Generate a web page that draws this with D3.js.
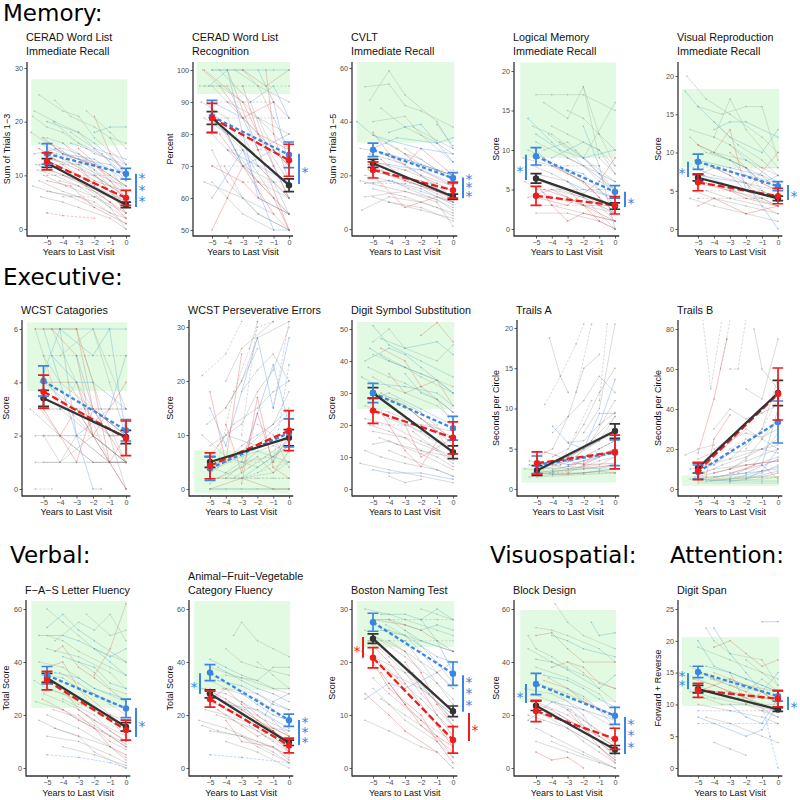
<!DOCTYPE html>
<html><head><meta charset="utf-8">
<script src="https://cdn.jsdelivr.net/npm/d3@7"></script>
<style>body{margin:0;background:#fff}svg{display:block}</style>
</head><body>
<svg id="c" width="800" height="800"></svg>
<script>
// ---------------- DATA ----------------
const sectionNames = ["Memory:", "Executive:", "Verbal:", "Visuospatial:", "Attention:"];
const titles = [
  ["CERAD Word List","Immediate Recall"],["CERAD Word List","Recognition"],["CVLT","Immediate Recall"],
  ["Logical Memory","Immediate Recall"],["Visual Reproduction","Immediate Recall"],
  ["WCST Catagories"],["WCST Perseverative Errors"],["Digit Symbol Substitution"],["Trails A"],["Trails B"],
  ["F\u2212A\u2212S Letter Fluency"],["Animal\u2212Fruit\u2212Vegetable","Category Fluency"],["Boston Naming Test"],["Block Design"],["Digit Span"]
];
const yTitles = ["Sum of Trials 1\u22123","Percent","Sum of Trials 1\u22125","Score","Score",
  "Score","Score","Score","Seconds per Circle","Seconds per Circle",
  "Total Score","Total Score","Score","Score","Forward + Reverse"];
const xTitle = "Years to Last Visit";
const xTicks = [-5,-4,-3,-2,-1,0];
const yTicks = [[0,10,20,30],[50,60,70,80,90,100],[0,20,40,60],[0,5,10,15,20],[0,5,10,15,20],
  [0,2,4,6],[0,10,20,30],[0,10,20,30,40,50],[0,5,10,15,20],[0,20,40,60,80],
  [0,20,40,60],[0,20,40,60],[0,10,20,30],[0,20,40,60],[0,5,10,15,20,25]];
const greenBands = [[15.6,27.9],[92.5,102.5],[32.2,62.6],[9,21.1],[8.1,18.3],
  [3.67,6.25],[-0.8,7.2],[25,52.2],[0.8,2.7],[1.5,6.8],
  [22.7,63],[29.4,63],[22.8,31.5],[25,59.6],[9.75,20.6]];
const blackMean = [[12.3,4.5],[85,64],[24.5,12],[6.4,2.9],[6.7,4.0],[3.4,1.95],[5,9.5],[30,11.5],[2.3,7.2],[10.5,48],[34,15.5],[28,9.5],[24.4,10.7],[23.5,7],[12.4,9.2]];
const blackErr  = [[0.8,0.5],[2,2],[1.5,1],[0.6,0.4],[0.4,0.3],[0.3,0.25],[1,1.5],[1.7,2],[0.6,0.9],[2.5,6.3],[1.7,1.6],[1.5,1],[0.9,1],[1.8,1.5],[0.6,0.3]];
const redMean   = [[12.6,5.8],[85,71.8],[22,14.5],[4.2,3.0],[6.1,4.3],[3.65,1.9],[4.3,10.8],[24.5,16],[3.2,4.6],[9,47.5],[33,14.3],[26,8.5],[20.8,5.3],[21.5,11],[12.2,10.9]];
const redErr    = [[1.6,1.4],[4.6,5],[3,3],[1.2,1.1],[1.1,1.0],[0.62,0.65],[2.4,3.7],[4,5],[1.4,2.1],[4.3,13],[3.5,3.8],[3,2.8],[1.9,2.5],[4,4],[1.1,1.3]];
const blueMean  = [[14,10.3],[85.5,73.5],[29.5,19],[9.2,4.7],[8.8,5.6],[4.05,2.2],[3.8,10.4],[30,19],[3.0,4.5],[8.5,33.5],[35,22.5],[36,18],[27.5,17.8],[31.7,19.7],[15.1,11.3]];
const blueErr   = [[1.9,1.0],[5,4],[2.5,2],[1.1,0.8],[1.0,0.6],[0.57,0.4],[2.2,2.6],[3,3.7],[1.1,1.6],[3.5,10.5],[3.3,3.5],[3,2.3],[1.7,2.2],[4,3.2],[0.9,0.8]];
const sigMarks = [
  [0,"R","b",10.3,4.1,3,0],[1,"R","b",73.8,64.4,1,0],[2,"R","b",19.2,11.5,3,0],
  [3,"L","b",9.4,6.2,1,0],[3,"R","b",4.7,2.8,1,0],[4,"L","b",8.8,6.8,1,0],[4,"R","b",5.75,3.8,1,0],
  [10,"R","b",22.6,11.7,1,0],[11,"L","b",35.8,27.9,1,0],[11,"R","b",18.1,8.7,3,0],
  [12,"L","r",24.7,20.8,1,0],[12,"R","b",17.5,10.6,3,0],[12,"R","r",10.4,5.1,1,1],
  [13,"L","b",31.7,24.5,1,0],[13,"R","b",19.2,5.3,3,0],
  [14,"L","b",14.9,12.4,2,0],[14,"R","b",11.2,9.1,1,0]
];
const spagCeradIR = ["g -5.8 22 -4.5 20 -3 18 -2 15 0 10","g -5.5 25 -4 22 -3 21 -2 17 0 12","g -6 18 -5 16 -3 14 -1 10 0 8","g -5 15 -4 13 -2 10 0 6","g -5.7 12 -4 10 -3 9 -1 5 0 3","g -4.6 20 -3 16 -1.5 14 0 9","g -5.2 10 -3.8 8 -2 6 0 2","g -5 13 -3 12 -2 8 0 4","g -4 16 -2.5 12 -1 7 0 5","g -5.9 21 -5 19 -4 18 -2 14 0 12","g -3 14 -2 11 -1 8 0 4","g -5.5 9 -4 7 -2 5 0 1","g -2.5 22 -1 18 0 15","g -4.8 11 -3 9 -1 4 0 0","g -5.3 17 -4 14 -2 12 0 7","g -3.5 18 -2 15 0 13","g -5 7 -3 6 -1 3 0 2","g -5.8 14 -4.2 15 -3 12 -1 9 0 5","G -5.5 12 -4 12 -3 12 -2 12","G -4 6 -2 6 -1 6 0 6","r -5.2 17 -4 14 -2 12 0 6","r -4.5 12 -3 10 -1 7 0 3","r -5 9 -3.5 8 -2 4 0 1","r -2 21 -1 14 0 10","r -3 15 -1.5 11 0 8","R -5 3 -4 2.5 -2 2","b -5 20 -3 18 -2 16 0 11","b -4.5 15 -3 13 -1 12 0 10","b -2 18 -1 19 0 19","b -5.5 16 -4 14 -2 13 0 9","b -1 17 0 12","g -4.5 24 -3.5 21 -2 19 -1 17 0 16",
  "g -5.2 14 -4 12 -3 10 -2 8 0 5","g -5.6 11 -4.5 10 -3 8 -1 6 0 4","g -4.2 9 -3 8 -2 6 0 3","g -5 17 -4 16 -2.5 13 -1 11 0 7","g -3.8 13 -2.8 11 -1.5 9 0 6","g -5.4 6 -4 5 -3 4 -1 2 0 0","g -2 10 -1 7 0 4","g -5.9 8 -4.8 7 -3.5 6 -2 4","g -4.4 14 -3 13 -2 11 -1 9 0 8","r -5.5 15 -4.5 13 -3 11 -2 9 0 7","r -4 10 -2.5 8 -1 5 0 2","b -3.5 16 -2.5 15 -1 13 0 11","G -5 10 -3 10 -2 10 -1 10"];
const spagCeradRec = ["b -5 100 -4 100 -3 100 -1 100 0 100","r -5.5 100 -3 90 -1 70 0 60","g -5 95 -4 90 -2 80 0 65","g -5.7 90 -4 85 -3 75 -1 60 0 55","b -5 90 -3 85 -2 75 0 80","r -4 100 -2 75 0 50","g -5 80 -3 70 -1 65 0 55","g -5.2 85 -4 80 -2 70 0 60","b -4.5 100 -2.5 90 -1 95 0 85","r -5 70 -3 65 -2 60 0 55","g -5.8 95 -4 95 -3 85 -1 75 0 70","b -5 60 -3 75 -1 50 0 50","r -3 95 -2 80 0 75","g -5 75 -4 65 -2 55 0 50","G -5 85 -3 85 -1 85 0 85","G -5.5 95 -3 95 0 95","G -5 90 -3 90 -1 90","g -4 90 -2 85 0 80","r -5 50 -4 60 -3 70 -1 55","b -2 100 -1 90 0 70","g -5.5 65 -3 60 -1 55 0 50","r -4.5 95 -3 85 -1 90 0 85","b -5.2 95 -4 100 -2 60 0 55","g -3.5 100 -2 95 0 90","g -5 100 -3 100 -2 95 0 75","r -1.5 100 -1 80 0 65","b -4 75 -2 70 0 65","G -4 75 -2 75 -1 75","G -3 65 -1 65 0 65","r -3 100 -1.5 95 0 100","g -2.5 90 -1 70 0 60",
  "g -5.3 90 -4 80 -3 70 -2 65 0 60","g -4.8 85 -3.5 75 -2 65 -1 60 0 55","g -5.6 100 -4.5 95 -3 90 -1 80 0 75","g -3 80 -2 70 -1 65 0 60","g -5 65 -4 60 -3 55 -1 50","r -4.5 80 -3 70 -2 65 -1 60 0 50","b -5.5 85 -4 80 -3 70 -1 75 0 70","g -2 85 -1 75 0 70","G -5 70 -3 70 -1 70","g -4.2 70 -3 60 -2 55 0 50"];
const spagCVLT = ["g -5.5 53 -4 54 -3 46 -2 44 0 38","g -5.2 48 -4 59 -3 50 -1 40 0 30","g -5 40 -3 42 -2 35 0 25","g -4.5 45 -3 38 -1 32 0 28","g -5.8 30 -4 28 -2 24 0 20","g -5 25 -3 22 -1 17 0 14","g -5.5 20 -4 18 -2 14 0 10","g -5 15 -3 12 -1 8 0 5","g -4 10 -2 8 0 3","g -5.7 7 -4 12 -2 10 0 6","g -3 30 -1 22 0 18","g -5 35 -3.5 30 -2 24 0 20","g -5.3 22 -4 20 -2 18 0 12","g -2.5 38 -1 33 0 30","r -5 36 -4 28 -3 24 -2 30 0 20","r -4.5 26 -3 18 -2 16 0 12","r -5 20 -3 8 -1 12 0 10","r -3 28 -2 22 0 16","b -6 40 -5 35 -4 33 -2 30 0 28","b -5 30 -3.5 34 -1 32 0 34","b -4 36 -3 38 -2 39 0 25","b -5.2 25 -4 24 -2 22 0 17","b -1 39 0 31","b -5.5 17 -4 18 -2 15 0 9","g -5.5 12 -3 14 -1 10 0 1","G -5 17 -3 17 -1 17","g -4 27 -2 20 -1 15 0 12",
  "g -5.2 28 -4 26 -3 24 -2 20 0 16","g -4.6 22 -3.5 20 -2 16 -1 13 0 10","g -5.8 18 -4.5 16 -3 14 -1 11 0 7","g -3.8 18 -2.8 15 -1.5 12 0 8","g -5 12 -4 10 -2 7 0 4","g -4.2 32 -3 28 -2 26 -1 22 0 18","g -2 20 -1 16 0 12","r -5.3 24 -4 20 -3 18 -1 14 0 11","b -4.5 28 -3 26 -2 24 -1 22 0 20","G -5 22 -3 22 -1 22 0 22"];
const spagLM = ["g -5 17 -4 17 -3 17 -2 17 0 15","g -4.5 16 -3 14 -2 18 -1 12 0 8","g -5.2 13 -4 12 -2 9 0 16","g -5 11 -3 9 -1 7 0 4","g -5.8 9 -4 8 -2 6 0 2","g -5 7 -3 6 -1 3 0 1","g -4 5 -2 4 0 0","g -5.5 4 -4 5 -2 3 0 2","g -3 15 -2 14 -1 12 0 10","g -5 2 -3 2 -1 1 0 0","g -4.5 10 -3 11 -2 9 0 6","g -2 18 -1 9 0 7","g -5.7 6 -4 4 -2 3 0 3","G -5 5 -3 5 -1 5 0 5","G -4 3 -2 3 0 3","r -5 6 -4 3 -3 1 -2 2 0 1","r -4 8 -2 6 -1 4 0 2","r -3 5 -2 3 -1 1 0 0","r -5 4 -3 3 -1 6 0 9","b -5.5 14 -4 11 -3 9 -2 8 0 5","b -5 12 -3.5 10 -2 9 0 10","b -4 9 -2 11 -1 10 0 7","b -3 6 -2 5 0 4","b -5 10 -4 8 -2 7 0 3","b -2 13 -1 8 0 0","g -4 13 -3 12 -1 10 0 8",
  "g -5.2 8 -4 7 -3 6 -2 4 0 2","g -4.6 6 -3.5 5 -2 4 -1 3 0 2","g -5.5 10 -4.5 9 -3 7 -1 5 0 3","g -3.8 8 -2.8 7 -1.5 5 0 4","g -5 3 -4 3 -2 2 0 1","g -2.5 10 -1.5 8 0 5","g -4.2 12 -3 10 -2 8 -1 6 0 5","r -4.5 5 -3 4 -2 3 0 1","b -3.5 11 -2 9 -1 7 0 6","G -5 8 -3 8 -1 8"];
const spagVR = ["b -5.8 18 -5 16 -3 12 -1 10 0 13","b -4 13 -3 14 -2 14 0 12","g -5.7 20 -4.5 17 -3 15 -1 12 0 10","g -5 16 -3.5 15 -2 16 -1 16 0 9","g -4 12 -3 17 -2 13 0 8","g -5 11 -4 10 -2 9 0 7","g -5.3 8 -4 7 -2 6 0 5","g -5 6 -3 5 -1 4 0 3","g -4.5 5 -3 4 -1 3 0 2","g -5.5 4 -4 3 -2 2 0 1","g -3 9 -2 8 -1 5 0 4","g -5 7 -4 8 -2 7 0 6","G -5 4 -3 4 -1 4 0 4","G -5 5 -3 5 -1 5","r -5 11 -4 10 -3 13 -2 5 0 10","r -4 8 -3 7 -2 5 0 4","r -3 10 -2 8 -1 6 0 5","r -5 3 -4 4 -2 2 0 3","b -5 9 -3 8 -1 7 0 5","b -3 11 -2 9 0 6","b -5 7 -2 6 0 0","g -4 14 -2.5 11 -1 9 0 7","g -5.5 13 -4 12 -3 11 -1 8 0 8",
  "g -5.2 9 -4 8 -3 7 -2 6 0 4","g -4.6 7 -3.5 6 -2 5 -1 4 0 3","g -5.5 12 -4.5 10 -3 9 -1 7 0 6","g -3.8 6 -2.8 5 -1.5 4 0 3","g -2.5 7 -1.5 5 0 4","g -4.2 10 -3 9 -2 7 -1 6 0 5","r -4.5 6 -3 5 -2 4 0 3","G -5 8 -3 8 -1 8","b -4 10 -3 9 -2 8 -1 6 0 7","g -5.3 5 -4 4 -2 3 0 2"];
const spagWCSTc = ["b -5 6 -4 6 -3 6 -1 6 0 6","r -4.5 6 -3 5 -2 2 0 1","g -5 5 -4 4 -2 3 0 2","g -5.5 6 -4 3 -2 2 0 1","b -4 6 -3 2 -1 3 0 5","g -5 4 -3 3 -1 2 0 0","r -3 6 -2 4 -1 1 0 2","g -5.8 3 -4 2 -2 1 0 1","g -5 2 -4 1 -2 2 0 0","b -5 6 -2 0 -1.5 0","g -4 5 -2 6 0 3","r -5 4 -3 4 -2 2 0 4","g -5.5 1 -4 1 -3 2 -1 1","G -5 5 -3 5 -1 5 0 5","g -3 3 -2 2 0 1","b -5.2 4 -4 6 -2 5 -1 6 0 2","r -4 2 -3 1 -2 3 0 1","g -5 3 -3 3 -1 3 0 3","G -5.5 0 -4.5 0","g -2 6 -1 4 0 2","g -4.5 6 -3 4 -1 1 0 1","b -3 5 -2 3 0 2","G -5 2 -3 2 -1 2 0 2","r -5.5 6 -4 6 -3 6 -2 3 0 2",
  "g -4.8 4 -3.5 3 -2 2 0 1","g -5.2 3 -4 2 -3 2 -1 1 0 1","g -3.5 4 -2.5 3 -1 2 0 2","g -5 1 -3 1 -1 1 0 1","g -4 3 -3 4 -2 3 -1 2 0 2","r -5 3 -4 2 -3 3 -1 1 0 0","b -4.5 5 -3 4 -2 4 0 3","G -5 3 -3 3 -2 3 0 3","g -2.5 5 -1.5 3 0 1","g -5.5 2 -4 2 -2 1 0 1"];
const spagWCSTp = ["G -5.5 21 -4 25 -3 31","G -4.5 5 -3.5 18 -2 30 -1 31","g -5 8 -3 12 -2 18 -1 22 0 30","g -4 15 -3 20 -2 28 0 31","g -5 3 -3 7 -1 12 0 18","G -3 10 -2 31","G -1 15 0 31","b -5 15 -4 8 -2 28 -1 15 0 28","b -3 5 -1 23 0 12","B -1 5 0 23","r -5 18 -4 5 -3 25","r -4 12 -3 3 -2 14 -1 5 0 10","r -3 1 -2 17 -1 4 0 2","g -5 0 -4 0 -2 0 0 0","g -5 2 -3 2 -1 3 0 5","g -4.5 4 -3 6 -1 8 0 7","g -5 6 -4 10 -2 8 0 14","b -5 0 -3 0 -1 0 0 0","g -3 18 -2 22 -1 25 0 20","g -5.5 10 -4 6 -2 4 0 8","r -5 0 -3 2 -1 0 0 0","g -2 12 -1 10 0 4","G -5 1 -4 3 -3 2 0 5","g -4 20 -3 26 -1 31","G -2.5 26 -2 31","G -5 2 -3 2 -1 2 0 2","b -4 2 -2 7 0 5",
  "g -4 5 -3 8 -2 10 -1 12 0 15","g -3.5 2 -2.5 4 -1.5 6 0 9","g -5 4 -4 3 -3 5 -1 6 0 8","g -2 3 -1 5 0 12","g -4.5 8 -3.5 12 -2 15 -1 18 0 20","G -5 5 -3 5 -1 5 0 5","G -4 2 -2 2 0 2","r -4.5 2 -3 4 -2 6 -1 3 0 7","b -3 2 -2 4 -1 6 0 9","g -5.2 12 -4 15 -3 20 -2 26"];
const spagDSS = ["r -2 48 -1 52 0 46","b -5 51 -4 45 -2 40 0 35","b -5.5 40 -4 44 -3 42 -2 38 0 30","g -5 46 -4 50 -3 44 -1 40 0 45","b -4.5 47 -3 44 -1 46 0 42","g -5.3 38 -4 35 -3 33 -1 28 0 20","r -4.5 44 -3 40 -2 32 0 24","r -4 36 -3 30 -2 32 -1 34 0 26","g -5 30 -3.5 28 -2 24 0 15","g -5.5 22 -4 20 -2 15 0 10","g -5 18 -3 16 -1 12 0 8","g -4 12 -3 10 -1 6 0 4","g -5.8 8 -4 6 -2 4 0 2","b -5 6 -4 5 -2 5 0 3","r -4.5 24 -3 12 -2 7 -1 15 0 12","r -3 20 -2 10 0 16","b -5.7 35 -5 33 -3 32 -1 30 0 26","g -4.5 42 -3 38 -2 35 0 30","b -3 36 -2 30 -1 28 0 24","g -5 14 -4 15 -2 11 0 6","g -5.5 26 -4 24 -2 20 0 18","g -3 26 -2 22 -1 18 0 10","b -5.2 28 -4 30 -2 25 0 20","g -4 4 -3 2 -2 3","g -5 42 -4 40 -2 36 0 32","g -4 22 -2 18 0 13",
  "g -5.2 20 -4 18 -3 16 -2 12 0 10","g -4.6 16 -3.5 14 -2 12 -1 10 0 7","g -5.5 12 -4.5 10 -3 8 -1 6 0 4","g -3.8 22 -2.8 20 -1.5 16 0 12","g -2.5 18 -1.5 14 0 9","g -5 35 -4 32 -3 30 -1 26 0 22","r -4.5 30 -3 26 -2 22 -1 18 0 14","b -5.2 44 -4 40 -3 38 -1 34 0 30","g -4 28 -3 26 -2 22 0 16","G -5 20 -3 20 -1 20"];
const spagTrA = ["G -4.5 10.5 -3.5 14 -2.5 18 -2 20.5","G -2.5 12 -1.5 20.5","G -1 11 -0.5 20.5","g -4.2 18.8 -3.5 14 -3 12","g -5 4 -4 5 -3 9 -2 11 -1 14 0 12","g -4 7 -3 9 -2 15 -1 16.7","g -5 2.5 -3 3.5 -1 6 0 9","g -5 2 -4 2.2 -2 2.5 0 3","g -5.5 1.5 -4 1.8 -2 2 0 2.5","g -4 3 -3 2.5 -1 3 0 4","g -3 5.8 -2 6 -1 8 0 9.5","b -4 7.8 -3 5.7 -2 5 -1 9.4 0 9.4","b -5 2 -4 1.8 -2 2 0 2.5","b -1 8 0 13.6","B -2 3 -1 5 0 6","r -4.5 4.6 -3.8 4.2 -3 3.5 -2 3 0 3.2","r -5 2 -3 1.8 -1 2.2 0 2","r -4 2.2 -2 2.5 0 3","g -5 3 -4 3 -3 4 -2 5 0 7","g -3 2 -2 3 -1 4 0 5","G -4 2 -3 2.2 -2 4 -1 5 0 6","g -5.8 2.5 -5 2.4 -4 2","b -5.5 3 -4 2.5 -3 2.8 -1 2.5 0 3","g -2 7 -1 10 0 20.5","g -4 4 -3 5 -2 8 -1 12 0 15","G -3.5 3 -2.5 7 -1.5 11",
  "g -5.2 2 -4 2.3 -3 2.8 -2 3.5 0 5","g -4.6 2.5 -3.5 3 -2 4 -1 5 0 6","g -5.5 3.5 -4.5 3.2 -3 4 -1 6 0 8","g -3.8 3 -2.8 4 -1.5 6 0 9","g -2.5 4 -1.5 6 0 11","g -4.2 2 -3 2.5 -2 2.8 -1 3.5 0 4","G -5 2 -3 2 -1 2 0 2","g -5 1.5 -4 1.6 -2 1.8 0 2","r -3 3 -2 3.2 -1 4 0 5","b -4 3.5 -3 3 -2 3.5 -1 4 0 4.5"];
const spagTrB = ["G -4.7 85 -4.2 50 -3.5 85","G -3.6 60 -3.2 75 -3 85","r -5 18 -4 45 -3.2 75","r -4.5 6 -4 25 -3 37","G -3 60 -2.5 60 -2 85","g -2 50 -1 45 0 75","g -1.5 80 -1 60 0 50","g -5 15 -3.5 20 -2 30 -1 25 0 20","g -4 12 -3 18 -1 20 0 18","g -5 8 -4 10 -2 12 0 14","g -5.5 5 -4 6 -2 8 0 10","g -5 4 -3 4 -1 5 0 6","g -3 10 -2 15 -1 25 0 35","b -1 12 0 40","b -5 5 -3 4 -1 4 0 4","b -4 6 -2 8 0 15","b -2 5 -1 9 0 20","r -5 5 -3 5 -1 6 0 8","r -3 8 -2 10 -1 12 0 5","g -5.8 17 -5 20 -4 22","g -4 20 -3 25 -2 28 -1 26 0 30","G -2 20 -1 30 0 45","g -5 3 -3 3 -1 3 0 3","b -3 4 -2 5 0 9","g -4 30 -3 40 -2 35 -1 38 0 42","G -5 10 -4 12 -3 20 -2 25",
  "g -5.2 6 -4 8 -3 10 -2 14 0 20","g -4.6 8 -3.5 12 -2 16 -1 20 0 25","g -5.5 10 -4.5 12 -3 15 -1 20 0 22","g -3.8 6 -2.8 8 -1.5 12 0 16","g -2.5 8 -1.5 12 0 28","g -4.2 4 -3 5 -2 6 -1 8 0 12","G -5 6 -3 6 -1 6 0 6","r -4 8 -3 10 -2 12 0 14","b -4.5 4 -3 5 -2 7 -1 9 0 11","g -3 15 -2 22 -1 30 0 55"];
const spagFAS = ["b -5.5 50 -4 50 -3 48 -1 42 0 45","b -5 53 -4 58 -3 52 -2 48 0 40","g -5 60 -4 55 -3 50 -2 45 0 40","g -4.5 48 -3 55 -2 52 -1 58 0 48","r -2 35 -1 45 0 62","r -4.5 44 -4 46 -3 38 -2 34 0 25","r -5 38 -4 40 -3 30 -1 20 0 15","r -4 30 -3 22 -2 18 0 10","r -3 20 -2 15 -1 8 0 5","g -5.5 40 -4 38 -2 30 0 25","g -5 30 -3 26 -1 18 0 12","g -5.7 25 -4 22 -2 16 0 8","g -5 20 -3 15 -1 8 0 3","g -4.5 15 -3 12 -2 6 0 0","g -5 12 -3 10 -1 5 0 2","g -3 40 -2 36 -1 30 0 28","b -4 42 -3 40 -2 38 -1 32 0 30","b -3 30 -2 28 0 22","B -5 5 -3 4 -1 2 0 0","g -5.3 35 -4 34 -3 30 -2 22 0 18","g -4 8 -2 5 0 1","g -2.5 58 -1 50 0 52","b -2 45 -1 40 0 35","g -4 26 -2 20 -1 14 0 10","g -5 45 -3 42 -1 36 0 30",
  "g -5.2 28 -4 25 -3 22 -2 18 0 12","g -4.6 22 -3.5 20 -2 15 -1 10 0 7","g -5.5 18 -4.5 15 -3 12 -1 8 0 4","g -3.8 28 -2.8 24 -1.5 20 0 16","g -2.5 20 -1.5 14 0 9","g -4.2 36 -3 32 -2 28 -1 24 0 20","g -5.8 33 -5 30 -4 28 -3 24","r -5.3 26 -4 22 -3 18 -1 12 0 8","b -4.5 36 -3 34 -2 30 -1 28 0 26","g -5 50 -4 48 -3 44 -1 38 0 35"];
const spagAFV = ["g -3.5 50 -3 55 -2 48 -1 45 0 42","g -4 45 -3 40 -2 38 0 35","b -5 41 -4 38 -3 35 -2 33 -1 38 0 38","b -4.5 38 -3 33 -2 30 -1 28 0 25","g -5 33 -4 30 -2 28 0 22","g -5.5 30 -4 28 -3 25 -1 18 0 12","g -5 25 -3 20 -1 14 0 8","g -5.7 18 -4 15 -2 10 0 5","g -5 14 -3 12 -1 6 0 2","g -4 10 -2 6 0 0","r -5 26 -4 30 -3 24 -2 18 0 10","r -4.5 22 -3 16 -2 12 -1 14 0 6","r -4 18 -3 10 -1 8 0 3","r -3 25 -2 20 -1 15 0 12","b -5 30 -4 24 -2 22 0 15","b -3 28 -2 24 -1 20 0 18","B -5 5 -3 4 0 2","g -4 35 -3 34 -2 33 -1 30 0 30","g -5.3 22 -4 20 -2 16 0 14","b -1.5 20 -1 25 0 28","g -2 40 -1 35 0 30","g -4 22 -2 16 -1 12 0 6",
  "g -5.2 28 -4 25 -3 22 -2 18 0 12","g -4.6 20 -3.5 18 -2 14 -1 10 0 6","g -5.5 16 -4.5 14 -3 12 -1 8 0 4","g -3.8 25 -2.8 22 -1.5 18 0 14","g -2.5 16 -1.5 12 0 8","g -4.2 30 -3 28 -2 26 -1 22 0 18","r -5.3 30 -4 26 -3 22 -1 14 0 9","b -4.5 33 -3 31 -2 28 -1 24 0 22","g -5 38 -4 36 -3 34 -1 30 0 28","g -3 12 -2 8 -1 5 0 2"];
const spagBNT = ["b -5 28 -4 28 -3 27 -2 26 -1 27 0 26","b -4.5 29 -3 29 -2 28 -1 30 0 28","g -5.5 30 -4 29 -3 28 -1 26 0 25","g -5 27 -4 26 -2 24 0 22","r -5 28 -3 27 -2 26 -1 24 0 22","r -4 24 -3 22 -2 18 -1 12 0 8","r -5 20 -4 15 -2 10 -1 5 0 1","r -4.5 18 -3 12 -2 8 0 3","r -3 20 -2 15 -1 10 0 6","r -5.5 14 -4 10 -3 7 -1 3 0 0","g -5 25 -3 22 -1 18 0 15","g -5.7 22 -4 18 -2 15 0 10","g -5 17 -4 14 -2 9 0 5","g -4.5 13 -3 10 -1 6 0 2","g -5.5 9 -4 7 -2 4 -1 3","g -3 24 -2 20 -1 16 0 12","b -5.5 13 -4 16 -3 15 -1 18 0 20","b -2 28 -1 24 0 18","g -5 21 -3 18 -2 14 0 8","G -5 24 -4 24 -3 24 0 24","g -2 30 -1 29 0 28","b -3 26 -2 24 0 22","g -4 28 -3 26 -1 20 0 16","G -5 28 -3 28 -1 28 0 28",
  "g -5.2 24 -4 21 -3 18 -2 15 0 10","g -4.6 20 -3.5 17 -2 13 -1 10 0 7","g -5.5 26 -4.5 24 -3 21 -1 16 0 13","g -3.8 21 -2.8 18 -1.5 14 0 9","g -2.5 18 -1.5 14 0 9","g -4.2 27 -3 25 -2 22 -1 18 0 15","r -5.3 24 -4 20 -3 16 -1 8 0 4","r -4 16 -3 12 -2 9 -1 6 0 4","b -4.5 26 -3 25 -2 23 -1 21 0 20","g -5 15 -4 12 -3 9 -1 5 0 2"];
const spagBlock = ["g -3.8 62 -3 55 -2 50 0 45","g -5 53 -4 52 -3 50 -1 45 0 40","b -1.5 55 -1 50 0 51","b -4 50 -3 48 -2 45 0 42","r -5 50 -4 51 -3 45 -2 40 0 40","r -4 38 -3 40 -2 38 -1 32 0 30","r -4.5 33 -3 30 -2 25 0 20","g -5.5 45 -4 40 -2 35 0 30","g -5 38 -3 34 -1 28 0 20","g -5.7 30 -4 28 -2 22 0 15","g -5 25 -3 20 -1 12 0 8","g -4.5 20 -3 15 -1 8 0 3","g -5 15 -4 12 -2 6 0 0","g -4 10 -2 5 0 0","r -5 6 -4 3 -3 4 -2 0","r -3 22 -2 15 -1 8 0 2","b -5 41 -4 40 -3 37 -1 30 0 35","b -3 30 -2 27 -1 22 0 20","b -5.5 18 -4 25 -2 22 0 18","g -5 10 -3 6 -1 2 0 0","g -3 40 -2 36 -1 30 0 25","g -5.5 50 -5 45 -4 42 -3 38","g -4 30 -2 20 -1 10 0 4",
  "g -5.2 28 -4 25 -3 22 -2 18 0 10","g -4.6 22 -3.5 20 -2 15 -1 10 0 5","g -5.5 20 -4.5 18 -3 15 -1 8 0 3","g -3.8 25 -2.8 22 -1.5 16 0 9","g -2.5 20 -1.5 12 0 5","g -4.2 34 -3 30 -2 26 -1 22 0 15","r -5.3 25 -4 22 -3 18 -1 12 0 8","b -4.5 35 -3 33 -2 30 -1 26 0 23","g -5 32 -4 30 -3 28 -1 22 0 18","g -3 15 -2 10 -1 6 0 2"];
const spagDigit = ["b -1 23 0 23","b -4 22 -3 18 -2 15 -1 12 0 15","g -4.5 22 -4 20 -3 18 -1 17 0 13","g -5 19 -3 17 -2 16 0 14","r -4 19 -3 20 -2 18 -1 16 0 17","r -5 12 -3 14 -2 13 0 12","r -3 15 -2 10 -1 12 0 10","g -5.5 16 -4 14 -2 13 0 11","g -5 14 -3 12 -1 10 0 9","g -5.3 12 -4 11 -2 10 0 9","g -5 10 -3 9 -1 8 0 7","g -4.5 8 -3 7 -1 5 0 4","g -4 4 -3 3 -2 2","b -5 8 -4 7 -2 5 -1 6 0 10","B -1 10 -0.5 5 0 0","b -5 20 -4 16 -2 14 0 12","G -5 9 -3 9 -1 9 0 9","G -5 11 -3 11 -1 11 0 11","g -3 13 -2 12 -1 14 0 12","b -3 10 -2 8 -1 7 0 11","g -2 17 -1 15 0 13","g -4 15 -3 14 -1 12 0 10",
  "g -5.2 13 -4 12 -3 12 -2 11 0 9","g -4.6 11 -3.5 10 -2 10 -1 9 0 8","g -5.5 12 -4.5 12 -3 11 -1 10 0 10","g -3.8 12 -2.8 11 -1.5 10 0 9","g -2.5 11 -1.5 10 0 8","g -4.2 14 -3 13 -2 12 -1 11 0 11","r -5.3 14 -4 13 -3 12 -1 11 0 11","b -4.5 16 -3 15 -2 14 -1 13 0 12","g -5 15 -4 14 -3 13 -1 12 0 10","G -5 7 -3 7 -1 7 0 7"];
const spaghetti = [spagCeradIR, spagCeradRec, spagCVLT, spagLM, spagVR, spagWCSTc, spagWCSTp, spagDSS, spagTrA, spagTrB, spagFAS, spagAFV, spagBNT, spagBlock, spagDigit];

// ---------------- LAYOUT ----------------
const headerPos = [[3,21],[3,285],[10,563],[490,563],[670,563]];
const rowTop = [62,320,600], rowBottom = [236,496,776];
const axisLeft = [[27,193,352,514,678],[22,189,352,517,678],[26,189,352,514,678]];
const xAt5 = [[47,212,373,536,698],[43.5,210,373,537,698],[47,210,373,536,698]];
const xAt0 = [[126,289,453,615,778],[126,289,453,615,778],[126,289,453,615,778]];
const yRef = [[0,229,30,68],[50,230,100,70],[0,229,60,68],[0,229,20,71],[0,229,20,76],
  [0,489,6,329],[0,489,30,327],[0,489,50,329],[0,489,20,328],[0,489,80,329],
  [0,768,60,609],[0,768,60,609],[0,768,30,609],[0,768,60,609],[0,768,25,609]];
const yTitleX = [[7,170,333,496,658],[6,170,332,496,658],[6,170,332,496,658]];
const titleBase = [[41,55],[314],[594]];
const xTitleBase = [255,515,795.5];

const COL = {g:"#8f8f8f", r:"#e2403f", b:"#4288dc"};
const MEANCOL = {k:"#333333", r:"#ee1c1c", b:"#3a86e0"};

const svg = d3.select("#c");
svg.append("rect").attr("width",800).attr("height",800).attr("fill","#fff");

sectionNames.forEach((s,i)=>{
  svg.append("text").attr("x",headerPos[i][0]).attr("y",headerPos[i][1])
    .attr("font-family","DejaVu Sans").attr("font-size",23).attr("fill","#000").text(s);
});

const TF = "Liberation Sans, Arial, sans-serif";

titles.forEach((tt,i)=>{
  const r = Math.floor(i/5), c = i%5;
  const L = axisLeft[r][c], T = rowTop[r], B = rowBottom[r];
  const x = d3.scaleLinear().domain([-5,0]).range([xAt5[r][c], xAt0[r][c]]);
  const R = x(0.27);
  const y = d3.scaleLinear().domain([yRef[i][0], yRef[i][2]]).range([yRef[i][1], yRef[i][3]]);
  const g = svg.append("g");
  const cid = "clip"+i;
  svg.append("clipPath").attr("id",cid).append("rect").attr("x",L+1).attr("y",T).attr("width",R-L).attr("height",B-T);
  const pg = g.append("g").attr("clip-path",`url(#${cid})`);
  const line = d3.line().x(d=>x(d[0])).y(d=>y(d[1]));

  spaghetti[i].forEach(s=>{
    const parts = s.split(" ");
    const t = parts[0];
    const nums = parts.slice(1).map(Number);
    const pts = [];
    for(let k=0;k<nums.length;k+=2) pts.push([nums[k],nums[k+1]]);
    const col = COL[t.toLowerCase()];
    const dashed = t !== t.toLowerCase();
    pg.append("path").attr("d",line(pts)).attr("fill","none").attr("stroke",col)
      .attr("stroke-width",0.6).attr("stroke-opacity",0.55)
      .attr("stroke-dasharray",dashed?"2.5,1.5":null);
    pg.selectAll(null).data(pts).enter().append("circle")
      .attr("cx",d=>x(d[0])).attr("cy",d=>y(d[1])).attr("r",0.8)
      .attr("fill",col).attr("fill-opacity",0.6);
  });

  const gb = greenBands[i];
  pg.append("rect").attr("x",x(-6)).attr("width",x(0.07)-x(-6))
    .attr("y",y(gb[1])).attr("height",y(gb[0])-y(gb[1]))
    .attr("fill","#90ee90").attr("fill-opacity",0.27);

  const groups = [
    {m:blueMean[i], e:blueErr[i], c:MEANCOL.b, dash:"4,2.5"},
    {m:redMean[i], e:redErr[i], c:MEANCOL.r, dash:"7,3"},
    {m:blackMean[i], e:blackErr[i], c:MEANCOL.k, dash:null}
  ];
  groups.forEach(G=>{
    pg.append("path").attr("d",line([[-5,G.m[0]],[0,G.m[1]]])).attr("fill","none")
      .attr("stroke",G.c).attr("stroke-width",2.3).attr("stroke-dasharray",G.dash);
  });
  [groups[2],groups[0],groups[1]].forEach(G=>{
    [-5,0].forEach((xx,k)=>{
      const cx = x(xx), hi = y(G.m[k]+G.e[k]), lo = y(G.m[k]-G.e[k]);
      const eb = pg.append("g").attr("stroke",G.c).attr("stroke-width",1.7);
      eb.append("line").attr("x1",cx).attr("x2",cx).attr("y1",hi).attr("y2",lo);
      eb.append("line").attr("x1",cx-5.5).attr("x2",cx+5.5).attr("y1",hi).attr("y2",hi);
      eb.append("line").attr("x1",cx-5.5).attr("x2",cx+5.5).attr("y1",lo).attr("y2",lo);
      pg.append("circle").attr("cx",cx).attr("cy",y(G.m[k])).attr("r",3.2).attr("fill",G.c);
    });
  });

  const ya = d3.axisLeft(y).tickValues(yTicks[i]).tickSize(2.5).tickPadding(1.5).tickFormat(d3.format("d"));
  const yg = g.append("g").attr("transform",`translate(${L},0)`).call(ya);
  const xa = d3.axisBottom(x).tickValues(xTicks).tickSize(2.5).tickPadding(1.5).tickFormat(d3.format("d"));
  const xg = g.append("g").attr("transform",`translate(0,${B})`).call(xa);
  [yg,xg].forEach(a=>{
    a.select(".domain").remove();
    a.selectAll(".tick line").attr("stroke","#333").attr("stroke-width",0.8);
    a.selectAll(".tick text").attr("font-family",TF).attr("font-size",7.2).attr("fill","#4d4d4d");
  });
  g.append("line").attr("x1",L).attr("x2",L).attr("y1",T).attr("y2",B+0.6).attr("stroke","#333").attr("stroke-width",1.3);
  g.append("line").attr("x1",L).attr("x2",R).attr("y1",B).attr("y2",B).attr("stroke","#333").attr("stroke-width",1.3);

  const tl = tt.length===1 ? [titleBase[r][titleBase[r].length-1]] : (r===2?[580,594]:titleBase[r]);
  tt.forEach((s,k)=>{
    g.append("text").attr("x",L-1).attr("y",tl[k]).attr("font-family",TF).attr("font-size",10.8).attr("fill","#111").text(s);
  });
  g.append("text").attr("x",(L+R)/2).attr("y",xTitleBase[r]).attr("text-anchor","middle")
    .attr("font-family",TF).attr("font-size",9).attr("fill","#111").text(xTitle);
  const yc = (T+B)/2, yx = yTitleX[r][c];
  g.append("text").attr("transform",`translate(${yx},${yc}) rotate(-90)`).attr("text-anchor","middle")
    .attr("dominant-baseline","central").attr("font-family",TF).attr("font-size",9).attr("fill","#111").text(yTitles[i]);

  // significance marks
  sigMarks.filter(s=>s[0]===i).forEach(s=>{
    const [, side, ck, y1, y2, n, colm] = s;
    const col = MEANCOL[ck];
    const lx = side==="R" ? x(0)+10+colm*6 : x(-5)-10;
    const sx = side==="R" ? lx+6 : lx-6;
    const p1 = y(y1), p2 = y(y2);
    g.append("line").attr("x1",lx).attr("x2",lx).attr("y1",p1).attr("y2",p2).attr("stroke",col).attr("stroke-width",2);
    const mid = (p1+p2)/2;
    const fs = 14;
    if(n===1){
      g.append("text").attr("x",sx).attr("y",mid+8.2).attr("text-anchor","middle")
        .attr("font-family","DejaVu Sans").attr("font-size",fs).attr("fill",col).text("*");
    } else {
      const gap = Math.min(9.5, Math.abs(p2-p1)/(n+0.3));
      g.append("text").attr("x",sx).attr("y",mid + gap/2 - 7.5)
        .attr("text-anchor","middle")
        .style("writing-mode","vertical-rl").style("text-orientation","upright")
        .style("letter-spacing",(gap-fs)+"px")
        .attr("font-family","DejaVu Sans").attr("font-size",fs).attr("fill",col)
        .text("*".repeat(n));
    }
  });
});
</script>
</body></html>
